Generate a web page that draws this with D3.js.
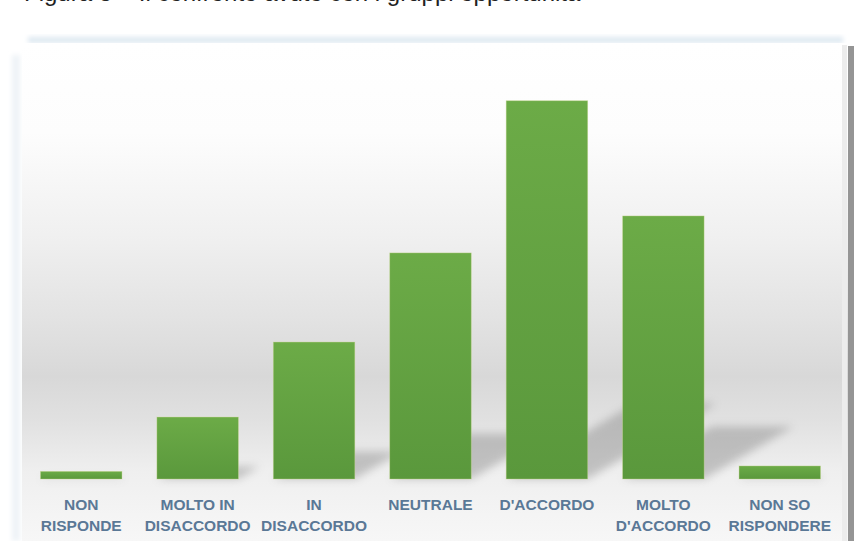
<!DOCTYPE html>
<html>
<head>
<meta charset="utf-8">
<script src="https://cdn.jsdelivr.net/npm/d3@7"></script>
<style>
  html, body { margin: 0; padding: 0; background: #ffffff; }
  svg { display: block; }
</style>
</head>
<body>
<svg id="chart" width="854" height="541"></svg>
<script>
// ---- data ----
const titleText = "Figura 3 – Il confronto avuto con i gruppi opportunità";
const categories = [
  "NON\nRISPONDE",
  "MOLTO IN\nDISACCORDO",
  "IN\nDISACCORDO",
  "NEUTRALE",
  "D'ACCORDO",
  "MOLTO\nD'ACCORDO",
  "NON SO\nRISPONDERE"
];
const values = [0.7, 5.7, 12.6, 20.8, 34.8, 24.2, 1.2];

// ---- layout ----
const W = 854, H = 541;
const baseY = 479;
const svg = d3.select("#chart");
const defs = svg.append("defs");

const x = d3.scaleBand()
  .domain(categories)
  .range([23, 838])
  .paddingInner(0.3)
  .paddingOuter(0.15);

const y = d3.scaleLinear()
  .domain([0, 40])
  .range([baseY, baseY - 434.8]);

// title (clipped at the top of the picture, as in the reference)
svg.append("text")
  .attr("x", 24).attr("y", 0.5)
  .attr("font-family", "Liberation Sans, Arial, sans-serif")
  .attr("font-size", 24)
  .attr("fill", "#222")
  .text(titleText);

// panel background gradient
const bg = defs.append("linearGradient").attr("id", "bg")
  .attr("x1", 0).attr("y1", 0).attr("x2", 0).attr("y2", 1);
[[0, "#ffffff"], [0.18, "#fdfdfd"], [0.40, "#efefef"], [0.56, "#e2e2e2"],
 [0.67, "#d8d8d8"], [0.76, "#e1e1e1"], [0.86, "#efefef"], [1, "#f7f7f7"]]
  .forEach(([o, c]) => bg.append("stop").attr("offset", o).attr("stop-color", c));

const blurF = defs.append("filter").attr("id", "blur")
  .attr("x", "-20%").attr("y", "-20%").attr("width", "140%").attr("height", "140%");
blurF.append("feGaussianBlur").attr("stdDeviation", 4);

const softF = defs.append("filter").attr("id", "soft")
  .attr("x", "-50%").attr("y", "-50%").attr("width", "200%").attr("height", "200%");
softF.append("feGaussianBlur").attr("stdDeviation", 2.5);

// top bluish shade and left shade
svg.append("rect").attr("x", 28).attr("y", 37).attr("width", 815).attr("height", 6)
  .attr("fill", "#dde8f1").attr("filter", "url(#soft)");
svg.append("rect").attr("x", 12).attr("y", 55).attr("width", 8).attr("height", 486)
  .attr("fill", "#eef3f7").attr("filter", "url(#soft)");

svg.append("rect")
  .attr("x", 22).attr("y", 43).attr("width", 826).attr("height", H - 43)
  .attr("fill", "url(#bg)");

// right edge
svg.append("rect").attr("x", 842).attr("y", 45).attr("width", 5).attr("height", H - 45)
  .attr("fill", "#ececec");
svg.append("rect").attr("x", 848).attr("y", 46).attr("width", 6).attr("height", H - 46)
  .attr("fill", "#959595");

// bar shadows
const shadowG = svg.append("g").attr("filter", "url(#blur)").attr("opacity", 0.34);
categories.forEach((c, i) => {
  const x0 = x(c), x1 = x(c) + x.bandwidth();
  const h = baseY - y(values[i]);
  const dx = 0.34 * h, dy = 0.2 * h;
  shadowG.append("polygon")
    .attr("points", [[x0, baseY], [x1, baseY], [x1 + dx, baseY - dy], [x0 + dx, baseY - dy]]
      .map(p => p.join(",")).join(" "))
    .attr("fill", "#6a6a6a");
});

// bar gradient
const bg2 = defs.append("linearGradient").attr("id", "barg")
  .attr("x1", 0).attr("y1", 0).attr("x2", 0).attr("y2", 1);
bg2.append("stop").attr("offset", 0).attr("stop-color", "#6cab47");
bg2.append("stop").attr("offset", 1).attr("stop-color", "#5a983c");

svg.append("g").selectAll("rect")
  .data(categories)
  .join("rect")
  .attr("x", d => x(d))
  .attr("y", (d, i) => y(values[i]))
  .attr("width", x.bandwidth())
  .attr("height", (d, i) => baseY - y(values[i]))
  .attr("fill", "url(#barg)")
  .attr("stroke", "#c9d68f")
  .attr("stroke-opacity", 0.45)
  .attr("stroke-width", 0.8);

// category labels
const lab = svg.append("g")
  .attr("font-family", "Liberation Sans, Arial, sans-serif")
  .attr("font-size", 15.5)
  .attr("font-weight", "bold")
  .attr("fill", "#5a7896")
  .attr("text-anchor", "middle");

categories.forEach(c => {
  const t = lab.append("text").attr("x", x(c) + x.bandwidth() / 2).attr("y", 510);
  c.split("\n").forEach((line, j) => {
    t.append("tspan").attr("x", x(c) + x.bandwidth() / 2).attr("y", 510 + j * 20.5).text(line);
  });
});
</script>
</body>
</html>
